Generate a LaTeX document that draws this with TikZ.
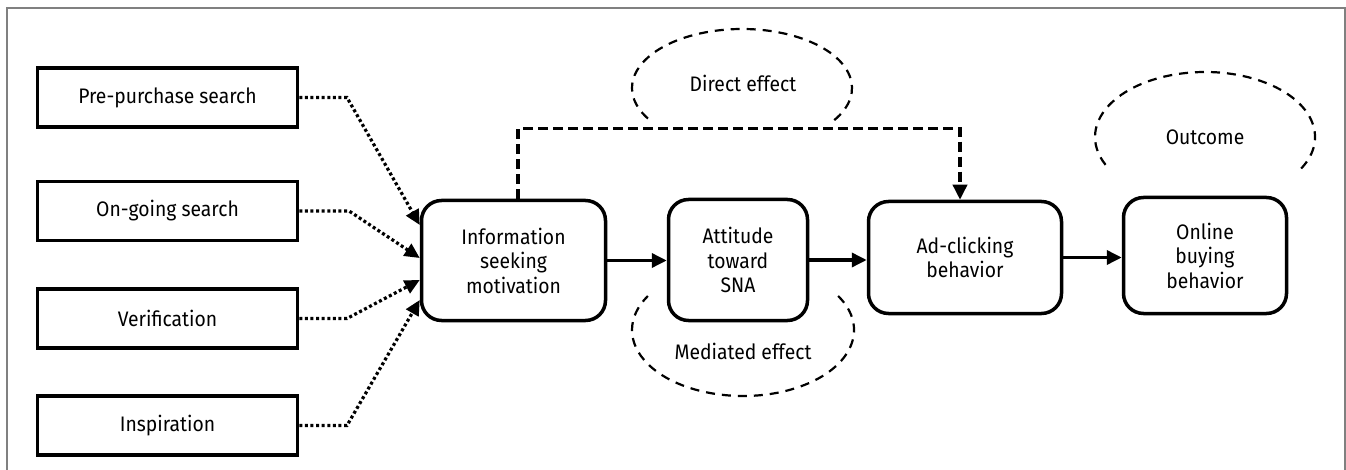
\documentclass[tikz,border=0pt]{standalone}
\usepackage{fontspec}
\setmainfont{Fira Sans}[FakeStretch=0.92]
\usetikzlibrary{arrows.meta,calc}
\begin{document}
\begin{tikzpicture}[x=1pt,y=-1pt,
  every node/.style={font=\fontsize{21}{24.5}\selectfont, align=center, inner sep=0pt},
  sqbox/.style={draw, line width=3.5pt, minimum width=260pt, minimum height=59pt},
  rbox/.style={draw, line width=3.5pt, rounded corners=20pt},
  tip/.style={-{Triangle[length=15pt,width=14pt]}},
  solidarrow/.style={line width=3.5pt, tip},
  dotarrow/.style={line width=3.2pt, dash pattern=on 3pt off 2.6pt, tip},
  dasharrow/.style={line width=3.5pt, dash pattern=on 10pt off 5pt, tip},
  effect/.style={line width=2.2pt, dash pattern=on 9pt off 7pt}
]
\useasboundingbox (0,0) rectangle (1346,470);
\draw[black!50, line width=1.5pt] (7,472) -- (7,8) -- (1345,8) -- (1345,472);

% left boxes
\node[sqbox] (pp) at (167.5,97.5) {Pre-purchase search};
\node[sqbox] (og) at (167.5,211) {On-going search};
\node[sqbox] (vf) at (167.5,318.5) {Verification};
\node[sqbox] (ins) at (167.5,425.5) {Inspiration};

% main boxes
\node[rbox, minimum width=184pt, minimum height=120pt] (info) at (513.5,260.5) {Information\\seeking\\motivation};
\node[rbox, minimum width=139pt, minimum height=121pt] (att) at (738,260) {Attitude\\toward\\SNA};
\node[rbox, minimum width=193pt, minimum height=112pt] (ad) at (965,257.5) {Ad-clicking\\behavior};
\node[rbox, minimum width=163pt, minimum height=116pt] (onl) at (1205,255.5) {Online\\buying\\behavior};

% dotted connectors
\draw[dotarrow] (pp.east) -- (pp.east -| 347,0) -- ([yshift=35.5pt]info.west);
\draw[dotarrow] (og.east) -- (og.east -| 349,0) -- ([yshift=2.5pt]info.west);
\draw[dotarrow] (vf.east) -- (vf.east -| 347,0) -- ([yshift=-19.5pt]info.west);
\draw[dotarrow] (ins.east) -- (ins.east -| 347,0) -- ([yshift=-39.5pt]info.west);

% solid arrows
\draw[solidarrow] (info.east) -- (info.east -| att.west);
\draw[solidarrow] (att.east) -- (att.east -| ad.west);
\draw[solidarrow] (ad.east) -- (ad.east -| onl.west);

% direct effect dashed path
\draw[dasharrow] ([xshift=4.5pt]info.north) -- ++(0,-70) -| ([xshift=-5pt]ad.north);

% effect ellipses
\draw[effect] (742,88) ++(33:110 and 59) arc[start angle=33, end angle=-213, x radius=110, y radius=59];
\node (de) at (743,83) {Direct effect};
\draw[effect] (1205,137) ++(29:110 and 65) arc[start angle=29, end angle=-209, x radius=110, y radius=65];
\node (oc) at (1205,137) {Outcome};
\draw[effect] (743,330) ++(-31:111 and 66) arc[start angle=-31, end angle=211, x radius=111, y radius=66];
\node (me) at (743,351) {Mediated effect};
\end{tikzpicture}
\end{document}
